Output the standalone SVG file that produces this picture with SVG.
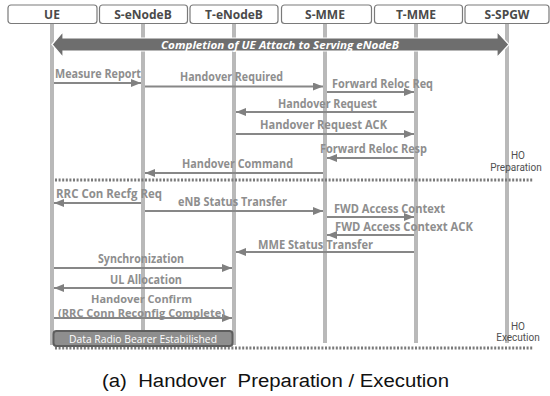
<svg xmlns="http://www.w3.org/2000/svg" width="550" height="396" viewBox="0 0 550 396">
  <style>
    .hdr rect { fill: #ffffff; stroke: #7a7a7a; stroke-width: 1.2; }
    .hdr text { font-family: "Open Sans", "Noto Sans", sans-serif; font-weight: 700; font-size: 12px; fill: #4a4a4a; text-anchor: middle; }
    .life { stroke: #b9b9b9; stroke-width: 4; }
    .msg line { stroke: #878787; stroke-width: 1.8; }
    .lbl { font-family: "Open Sans", "Noto Sans", sans-serif; font-weight: 700; font-size: 11.5px; fill: #8e8e8e; }
    .ho { font-family: "Roboto", "Liberation Sans", sans-serif; font-size: 10px; fill: #505050; text-anchor: middle; }
    .dots { stroke: #7a7a7a; stroke-width: 3; stroke-dasharray: 2 1.6; }
  </style>
  <defs>
    <marker id="ah" viewBox="0 0 10 8" refX="10" refY="4" markerWidth="10" markerHeight="8" markerUnits="userSpaceOnUse" orient="auto">
      <path d="M0,0 L10,4 L0,8 z" fill="#808080"/>
    </marker>
  </defs>

  <rect width="550" height="396" fill="#ffffff"/>

  <!-- entity headers with lifelines -->
  <g id="ue" class="hdr">
    <rect x="8" y="5" width="89" height="18.5" rx="3"/>
    <text x="52" y="18.8">UE</text>
    <line class="life" x1="52" y1="24" x2="52" y2="345"/>
  </g>
  <g id="s-enodeb" class="hdr">
    <rect x="99.5" y="5" width="88" height="18.5" rx="3"/>
    <text x="143" y="18.8">S-eNodeB</text>
    <line class="life" x1="143" y1="24" x2="143" y2="345"/>
  </g>
  <g id="t-enodeb" class="hdr">
    <rect x="190" y="5" width="88" height="18.5" rx="3"/>
    <text x="234" y="18.8">T-eNodeB</text>
    <line class="life" x1="234" y1="24" x2="234" y2="345"/>
  </g>
  <g id="s-mme" class="hdr">
    <rect x="281.5" y="5" width="90" height="18.5" rx="3"/>
    <text x="325" y="18.8">S-MME</text>
    <line class="life" x1="325" y1="24" x2="325" y2="343"/>
  </g>
  <g id="t-mme" class="hdr">
    <rect x="374.5" y="5" width="88" height="18.5" rx="3"/>
    <text x="416" y="18.8">T-MME</text>
    <line class="life" x1="416" y1="24" x2="416" y2="343"/>
  </g>
  <g id="s-spgw" class="hdr">
    <rect x="465" y="5" width="84" height="18.5" rx="3"/>
    <text x="507" y="18.8">S-SPGW</text>
    <line class="life" x1="507" y1="24" x2="507" y2="343"/>
  </g>

  <!-- attach completion band -->
  <g id="attach">
    <path d="M52,44.5 L63,31.5 L63,38 L497,38 L497,31.5 L509,44.5 L497,57.5 L497,51 L63,51 L63,57.5 z"
          fill="#6e6e6e" stroke="#ffffff" stroke-width="1.2"/>
    <text x="161" y="48.5" textLength="238" lengthAdjust="spacingAndGlyphs"
          font-family="Open Sans, Noto Sans, sans-serif" font-size="11" font-weight="700" font-style="italic" fill="#ffffff">Completion of UE Attach to Serving eNodeB</text>
  </g>

  <!-- messages -->
  <g id="connectors" class="msg">
    <line x1="54" y1="83" x2="141" y2="83" marker-end="url(#ah)"/>
    <line x1="145" y1="86.5" x2="323" y2="86.5" marker-end="url(#ah)"/>
    <line x1="327" y1="92" x2="414" y2="92" marker-end="url(#ah)"/>
    <line x1="414" y1="112" x2="236" y2="112" marker-end="url(#ah)"/>
    <line x1="236" y1="134" x2="414" y2="134" marker-end="url(#ah)"/>
    <line x1="414" y1="158" x2="327" y2="158" marker-end="url(#ah)"/>
    <line x1="323" y1="173" x2="145" y2="173" marker-end="url(#ah)"/>
    <line x1="141" y1="203" x2="54" y2="203" marker-end="url(#ah)"/>
    <line x1="145" y1="211" x2="323" y2="211" marker-end="url(#ah)"/>
    <line x1="327" y1="217" x2="414" y2="217" marker-end="url(#ah)"/>
    <line x1="414" y1="235" x2="327" y2="235" marker-end="url(#ah)"/>
    <line x1="414" y1="252" x2="236" y2="252" marker-end="url(#ah)"/>
    <line x1="54" y1="268" x2="232" y2="268" marker-end="url(#ah)"/>
    <line x1="232" y1="288" x2="54" y2="288" marker-end="url(#ah)"/>
    <line x1="54" y1="318" x2="232" y2="318" marker-end="url(#ah)"/>
  </g>

  <!-- message labels -->
  <g id="labels" class="lbl">
    <text x="55" y="77.5" textLength="86" lengthAdjust="spacingAndGlyphs">Measure Report</text>
    <text x="180" y="80.5" textLength="103" lengthAdjust="spacingAndGlyphs">Handover Required</text>
    <text x="332" y="87.5" textLength="101" lengthAdjust="spacingAndGlyphs">Forward Reloc Req</text>
    <text x="278" y="108" textLength="99" lengthAdjust="spacingAndGlyphs">Handover Request</text>
    <text x="260" y="129" textLength="127" lengthAdjust="spacingAndGlyphs">Handover Request ACK</text>
    <text x="320" y="153" textLength="107" lengthAdjust="spacingAndGlyphs">Forward Reloc Resp</text>
    <text x="182" y="168" textLength="111" lengthAdjust="spacingAndGlyphs">Handover Command</text>
    <text x="56" y="197.5" textLength="106" lengthAdjust="spacingAndGlyphs">RRC Con Recfg Req</text>
    <text x="178" y="206" textLength="109" lengthAdjust="spacingAndGlyphs">eNB Status Transfer</text>
    <text x="334" y="213" textLength="111" lengthAdjust="spacingAndGlyphs">FWD Access Context</text>
    <text x="335" y="231" textLength="138" lengthAdjust="spacingAndGlyphs">FWD Access Context ACK</text>
    <text x="258" y="249" textLength="115" lengthAdjust="spacingAndGlyphs">MME Status Transfer</text>
    <text x="98" y="263" textLength="86" lengthAdjust="spacingAndGlyphs">Synchronization</text>
    <text x="110" y="284" textLength="72" lengthAdjust="spacingAndGlyphs">UL Allocation</text>
    <text x="91" y="302.5" textLength="101" lengthAdjust="spacingAndGlyphs" font-size="10.5">Handover Confirm</text>
    <text x="58" y="316.8" textLength="167" lengthAdjust="spacingAndGlyphs" font-size="10.5">(RRC Conn Reconfig Complete)</text>
  </g>

  <!-- phase separators -->
  <g id="phases">
    <line class="dots" x1="55" y1="180" x2="533" y2="180"/>
    <text class="ho" x="518" y="159">HO</text>
    <text class="ho" x="516" y="171">Preparation</text>
    <line class="dots" x1="55" y1="348" x2="533" y2="348"/>
    <text class="ho" x="518" y="330">HO</text>
    <text class="ho" x="518" y="341">Execution</text>
  </g>

  <!-- bearer established bar -->
  <g id="drb">
    <rect x="53.5" y="331" width="179" height="15" rx="3" fill="#8e8e8e" stroke="#5e5e5e" stroke-width="2"/>
    <text x="143" y="342.5" text-anchor="middle" font-family="Open Sans, Noto Sans, sans-serif" font-size="10" fill="#ffffff" textLength="148" lengthAdjust="spacingAndGlyphs">Data Radio Bearer Estabilished</text>
  </g>

  <text x="102" y="387" font-family="Liberation Sans, Arial, sans-serif" font-size="18" fill="#111111" textLength="347" lengthAdjust="spacingAndGlyphs" xml:space="preserve">(a)  Handover  Preparation / Execution</text>
</svg>
